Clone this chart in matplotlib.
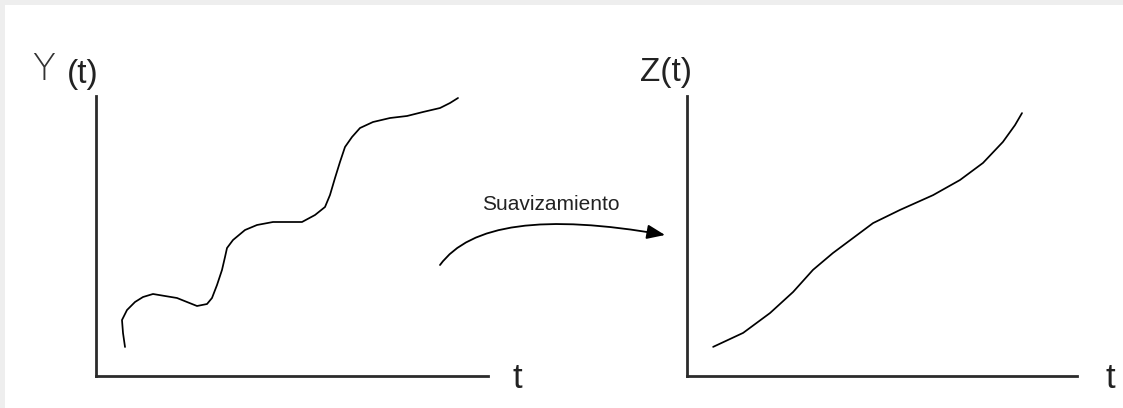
import matplotlib
matplotlib.use("Agg")
import matplotlib.pyplot as plt
from matplotlib.patches import Rectangle, FancyArrowPatch

# ---- data (axis units 0..100) ----
y_t = [7.40, 6.89, 6.63, 7.91, 9.95, 11.99, 14.54, 17.60, 20.66, 23.21, 25.77,
       28.32, 29.59, 30.87, 32.14, 32.91, 33.42, 34.95, 38.01, 41.07, 45.15,
       52.55, 55.87, 58.42, 59.69, 60.97, 62.24, 63.52, 65.31, 67.35, 70.66,
       75.00, 79.34, 83.42, 87.76, 90.31, 92.35]
y_vals = [10.36, 15.36, 20.00, 23.57, 26.43, 28.21, 29.29, 28.57, 27.86, 26.43,
          25.00, 25.71, 27.86, 32.50, 37.86, 42.50, 45.71, 48.57, 52.14, 53.93,
          55.00, 55.00, 57.50, 60.36, 64.64, 70.71, 76.43, 81.79, 85.36, 88.57,
          90.71, 92.14, 92.86, 94.29, 95.71, 97.50, 99.29]

z_t = [6.7, 14.4, 21.3, 27.2, 32.3, 37.4, 42.6, 47.7, 54.6, 63.1, 70.0, 75.9,
       81.0, 84.1, 85.9]
z_vals = [10.4, 15.4, 22.5, 30.0, 37.9, 43.9, 49.3, 54.6, 59.3, 64.6, 70.0, 76.1,
          83.6, 89.6, 93.9]

left_label_y = "Y"
left_label_t = "(t)"
right_label = "Z(t)"
x_label = "t"
arrow_label = "Suavizamiento"

W, H = 1123, 408
fig = plt.figure(figsize=(W / 100, H / 100), dpi=100, facecolor="white")
plt.rcParams["font.family"] = ["Liberation Sans", "DejaVu Sans"]

# light gray frame at top and left edges
fig.patches.append(Rectangle((0, 0), 5 / W, 1, transform=fig.transFigure,
                             facecolor="#eeeeee", edgecolor="none", zorder=0))
fig.patches.append(Rectangle((0, 1 - 5 / H), 1, 5 / H, transform=fig.transFigure,
                             facecolor="#eeeeee", edgecolor="none", zorder=0))

axis_color = "#2b2b2b"


def make_panel(left_px, right_px, t, v):
    ax = fig.add_axes([left_px / W, 32 / H, (right_px - left_px) / W, 280 / H])
    ax.plot(t, v, color="black", lw=1.25, solid_capstyle="round",
            solid_joinstyle="round")
    ax.set_xlim(0, 100)
    ax.set_ylim(0, 100)
    for s in ("top", "right"):
        ax.spines[s].set_visible(False)
    for s in ("left", "bottom"):
        ax.spines[s].set_linewidth(2.0)
        ax.spines[s].set_color(axis_color)
    ax.set_xticks([])
    ax.set_yticks([])
    ax.patch.set_alpha(0)
    return ax


ax1 = make_panel(96, 488, y_t, y_vals)
ax2 = make_panel(687, 1077, z_t, z_vals)

# axis labels
fig.text(32 / W, 1 - 69 / H, left_label_y, fontsize=27, color="#333333", va="center",
         ha="left", fontweight="light", family=["DejaVu Sans"])
fig.text(67 / W, 1 - 74 / H, left_label_t, fontsize=24, color="#222222",
         va="center", ha="left")
fig.text(666 / W, 1 - 73 / H, right_label, fontsize=24, color="#222222",
         va="center", ha="center")
fig.text(517 / W, 1 - 378 / H, x_label, fontsize=25, color="#222222",
         va="center", ha="center")
fig.text(1110 / W, 1 - 378 / H, x_label, fontsize=25, color="#222222",
         va="center", ha="center")

# curved arrow
fig.add_artist(FancyArrowPatch(
    (440 / W, 1 - 265 / H), (665 / W, 1 - 235 / H), transform=fig.transFigure,
    connectionstyle="angle3,angleA=54,angleB=-10",
    arrowstyle="-|>,head_length=0.55,head_width=0.22", mutation_scale=20,
    lw=1.3, color="black", shrinkA=0, shrinkB=0))
fig.text(551 / W, 1 - 204 / H, arrow_label, fontsize=15, color="#222222",
         va="center", ha="center")

fig.savefig("out.png", dpi=100, facecolor="white")
